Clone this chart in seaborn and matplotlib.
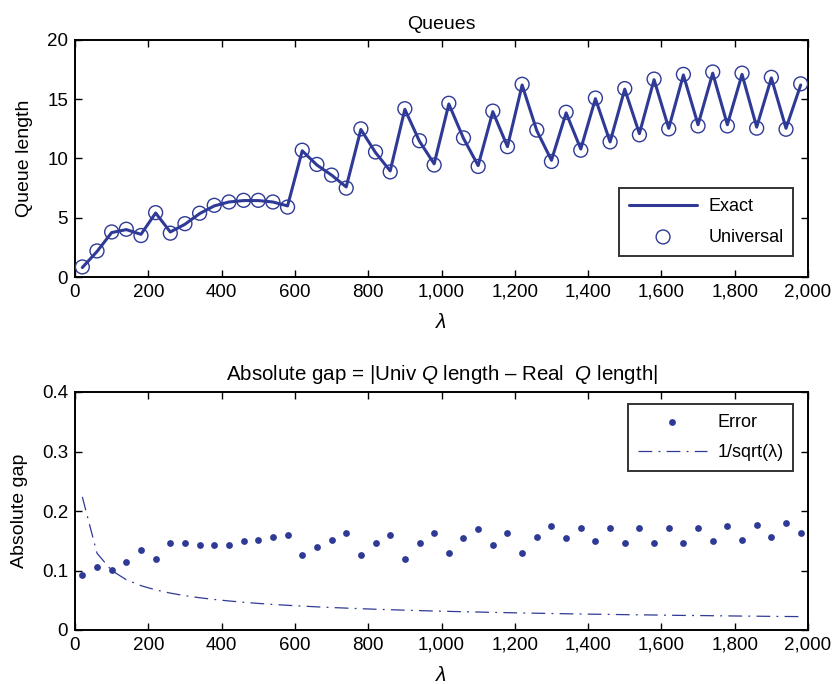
import numpy as np
import pandas as pd
import matplotlib
matplotlib.use("Agg")
import matplotlib.pyplot as plt
import seaborn as sns

lam = list(range(20, 2000, 40))
universal = [0.85, 2.2, 3.8, 4.03, 3.5, 5.43, 3.7, 4.5, 5.38, 6.05,
             6.33, 6.47, 6.47, 6.33, 5.9, 10.7, 9.5, 8.6, 7.5, 12.5,
             10.55, 8.87, 14.2, 11.5, 9.45, 14.66, 11.74, 9.33, 14.0, 11.0,
             16.26, 12.4, 9.75, 13.9, 10.7, 15.1, 11.4, 15.9, 12.0, 16.7,
             12.5, 17.1, 12.75, 17.3, 12.75, 17.2, 12.56, 16.85, 12.47, 16.3]
exact = [0.8, 2.15, 3.75, 4.0, 3.6, 5.4, 3.8, 4.45, 5.35, 6.0,
         6.33, 6.45, 6.45, 6.33, 6.0, 10.65, 9.45, 8.6, 7.6, 12.45,
         10.5, 8.95, 14.15, 11.45, 9.55, 14.6, 11.7, 9.4, 13.95, 11.0,
         16.2, 12.35, 9.85, 13.85, 10.8, 15.05, 11.4, 15.85, 12.1, 16.65,
         12.55, 17.05, 12.85, 17.2, 12.85, 17.1, 12.65, 16.8, 12.55, 16.2]
error = [0.092, 0.106, 0.101, 0.115, 0.134, 0.120, 0.146, 0.146, 0.143, 0.143,
         0.143, 0.149, 0.151, 0.157, 0.160, 0.126, 0.140, 0.151, 0.163, 0.126,
         0.146, 0.160, 0.120, 0.146, 0.163, 0.129, 0.155, 0.169, 0.143, 0.163,
         0.129, 0.157, 0.174, 0.154, 0.172, 0.149, 0.172, 0.146, 0.172, 0.146,
         0.172, 0.146, 0.172, 0.149, 0.174, 0.151, 0.177, 0.157, 0.180, 0.163]
inv_sqrt = [0.2236, 0.1291, 0.1000, 0.0845, 0.0745, 0.0674, 0.0620, 0.0577, 0.0542, 0.0513,
            0.0488, 0.0466, 0.0447, 0.0430, 0.0415, 0.0402, 0.0389, 0.0378, 0.0368, 0.0358,
            0.0349, 0.0341, 0.0333, 0.0326, 0.0319, 0.0313, 0.0307, 0.0302, 0.0296, 0.0291,
            0.0286, 0.0282, 0.0277, 0.0273, 0.0269, 0.0265, 0.0262, 0.0258, 0.0255, 0.0252,
            0.0248, 0.0245, 0.0243, 0.0240, 0.0237, 0.0234, 0.0232, 0.0229, 0.0227, 0.0225]

top_yticks = [0, 5, 10, 15, 20]
bot_yticks = [0, 0.1, 0.2, 0.3, 0.4]
bot_yticklabels = ["0", "0.1", "0.2", "0.3", "0.4"]
xticks = list(range(0, 2001, 200))
xticklabels = ["0", "200", "400", "600", "800", "1,000", "1,200", "1,400", "1,600", "1,800", "2,000"]

df = pd.DataFrame({"lam": lam, "universal": universal, "exact": exact,
                   "error": error, "inv_sqrt": inv_sqrt})

sns.set_style("ticks")
plt.rcParams.update({
    "font.family": ["Liberation Sans", "DejaVu Sans"],
    "mathtext.fontset": "custom",
    "mathtext.rm": "Liberation Sans",
    "mathtext.it": "Liberation Sans:italic",
    "xtick.direction": "in",
    "ytick.direction": "in",
    "xtick.top": True,
    "ytick.right": True,
    "axes.linewidth": 1.4,
    "xtick.major.width": 1.0,
    "ytick.major.width": 1.0,
    "xtick.major.size": 5,
    "ytick.major.size": 5,
    "xtick.color": "black",
    "ytick.color": "black",
    "axes.edgecolor": "black",
    "text.color": "black",
    "axes.labelcolor": "black",
})

C = "#2f3a96"
DASH = [11, 5, 1.5, 5]
fig = plt.figure(figsize=(8.32, 6.84), dpi=100)
W, H = 832, 684
ax1 = fig.add_axes([75 / W, 1 - 277 / H, (808 - 75) / W, (277 - 40) / H])
ax2 = fig.add_axes([75 / W, 1 - 630 / H, (808 - 75) / W, (630 - 392) / H])

sns.lineplot(data=df, x="lam", y="exact", ax=ax1, color=C, linewidth=2.2, label="Exact")
sns.scatterplot(data=df, x="lam", y="universal", ax=ax1, marker="o", s=100,
                facecolor="none", edgecolor=C, linewidth=1.0, label="Universal", zorder=3)
ax1.set_xlim(0, 2000)
ax1.set_ylim(0, 20)
ax1.set_yticks(top_yticks)
ax1.set_xticks(xticks)
ax1.set_xticklabels(xticklabels)
ax1.set_title("Queues", fontsize=14, pad=8)
ax1.set_xlabel(r"$\lambda$", fontsize=15, labelpad=9)
ax1.set_ylabel("Queue length", fontsize=14, labelpad=10)
leg_kw = dict(frameon=True, fancybox=False, edgecolor="black", fontsize=13,
              handlelength=3.8, borderpad=0.55, labelspacing=0.75,
              handletextpad=0.6, borderaxespad=0.2)
leg1 = ax1.legend(loc="lower right", bbox_to_anchor=(0.985, 0.075), **leg_kw)
leg1.get_frame().set_linewidth(1.4)

sns.scatterplot(data=df, x="lam", y="error", ax=ax2, marker="o", s=24, color=C,
                edgecolor=C, linewidth=0, label="Error", zorder=3)
sns.lineplot(data=df, x="lam", y="inv_sqrt", ax=ax2, color=C, linewidth=0.9,
             label="1/sqrt(λ)")
ax2.lines[-1].set_dashes(DASH)
ax2.set_xlim(0, 2000)
ax2.set_ylim(0, 0.4)
ax2.set_yticks(bot_yticks)
ax2.set_yticklabels(bot_yticklabels)
ax2.set_xticks(xticks)
ax2.set_xticklabels(xticklabels)
ax2.set_title(r"Absolute gap = |Univ $Q$ length – Real  $Q$ length|", fontsize=14.8, pad=9)
ax2.set_xlabel(r"$\lambda$", fontsize=15, labelpad=9)
ax2.set_ylabel("Absolute gap", fontsize=14, labelpad=10)
h, l = ax2.get_legend_handles_labels()
leg2 = ax2.legend(h, l, loc="upper right", bbox_to_anchor=(0.985, 0.965), **leg_kw)
leg2.get_frame().set_linewidth(1.4)
for lh in leg2.legend_handles:
    if isinstance(lh, matplotlib.lines.Line2D):
        lh.set_dashes(DASH)

for ax in (ax1, ax2):
    ax.tick_params(labelsize=13.5, pad=5)
    for s in ax.spines.values():
        s.set_visible(True)
        s.set_linewidth(1.4)

fig.savefig("out.png", dpi=100)
